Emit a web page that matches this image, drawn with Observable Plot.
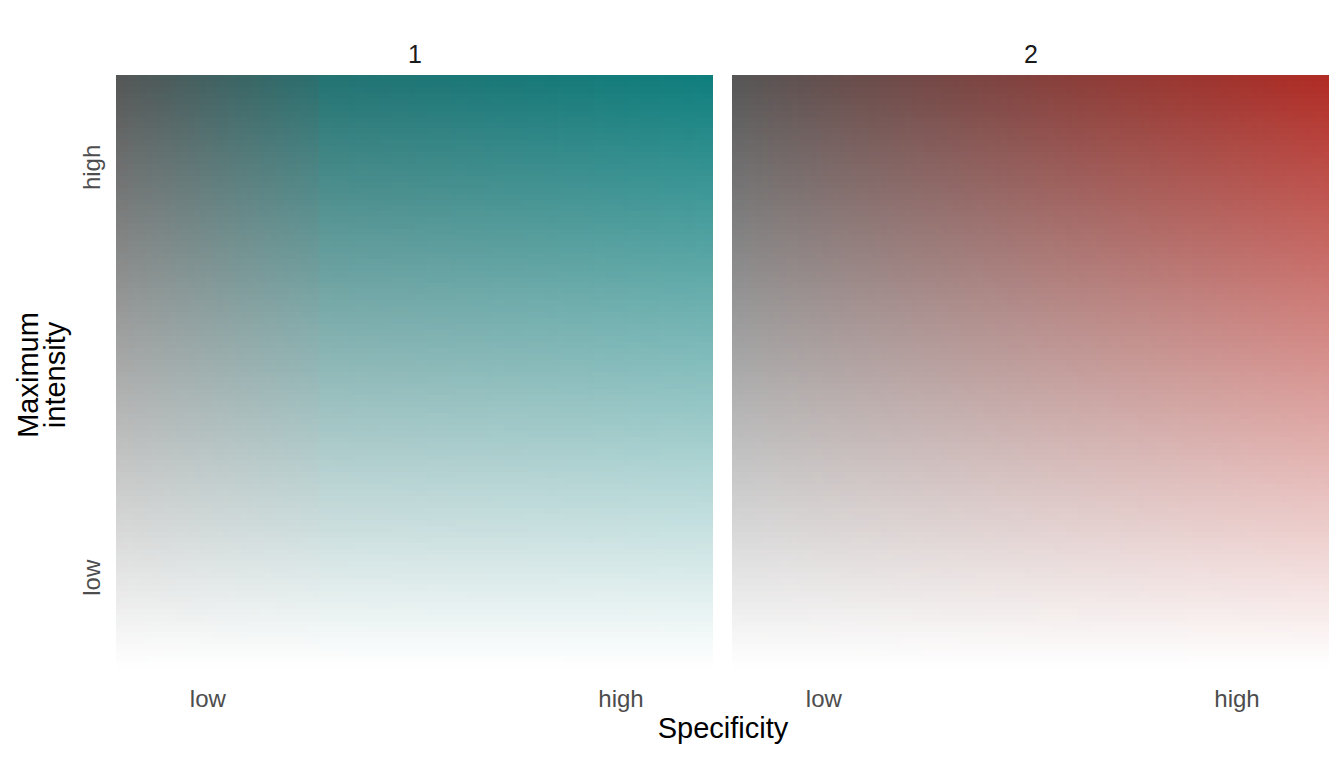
<!DOCTYPE html>
<html>
<head>
<meta charset="utf-8">
<script src="https://cdn.jsdelivr.net/npm/d3@7"></script>
<script src="https://cdn.jsdelivr.net/npm/@observablehq/plot@0.6"></script>
<style>
  html, body { margin: 0; padding: 0; background: #ffffff; }
  #chart svg { display: block; }
</style>
</head>
<body>
<div id="chart"></div>
<script>
// ---- chart content ----
const facets = ["1", "2"];
const hueColors = ["#0e7e7d", "#b02b24"];     // colour at high specificity & high intensity
const baseGray = "#555555";                   // colour at low specificity & high intensity
const lowColor = "#ffffff";                   // colour at low intensity
// how far each panel's colour moves from gray toward its hue, along specificity
const weightKnotS = [[0, 0.34, 0.345, 1], [0, 1]];
const weightKnotW = [[0, 0.62, 0.72, 1], [0, 1]];
const gridSteps = 100;                         // tiles per side
const tickValues = [0.153, 0.845];
const tickLabels = ["low", "high"];
const xTitle = "Specificity";
const yTitle = "Maximum\nintensity";

// ---- build tile table ----
const tiles = [];
facets.forEach((f, k) => {
  const wScale = d3.scaleLinear().domain(weightKnotS[k]).range(weightKnotW[k]).clamp(true);
  const hueMix = d3.interpolateRgb(baseGray, hueColors[k]);
  for (let i = 0; i < gridSteps; i++) {
    const s = (i + 0.5) / gridSteps;
    const top = hueMix(wScale(s));
    const vMix = d3.interpolateRgb(lowColor, top);
    for (let j = 0; j < gridSteps; j++) {
      const t = (j + 0.5) / gridSteps;
      tiles.push({
        facet: f,
        x1: i / gridSteps, x2: (i + 1) / gridSteps,
        y1: j / gridSteps, y2: (j + 1) / gridSteps,
        color: vMix(t)
      });
    }
  }
});

const xTicks = facets.flatMap(f => tickValues.map((v, i) => ({facet: f, value: v, label: tickLabels[i]})));
const yTicks = tickValues.map((v, i) => ({facet: facets[0], value: v, label: tickLabels[i]}));

const chart = Plot.plot({
  width: 1344,
  height: 768,
  marginLeft: 116,
  marginRight: 15,
  marginTop: 75,
  marginBottom: 100,
  style: {fontFamily: "'Liberation Sans', Arial, Helvetica, sans-serif", background: "#ffffff"},
  x: {domain: [0, 1], axis: null},
  y: {domain: [0, 1], axis: null},
  fx: {domain: facets, paddingInner: 19 / 616, paddingOuter: 0, axis: null},
  color: {type: "identity"},
  marks: [
    Plot.rect(tiles, {x1: "x1", x2: "x2", y1: "y1", y2: "y2", fx: "facet", fill: "color", shapeRendering: "crispEdges"}),
    Plot.text(facets, {fx: d => d, text: d => d, frameAnchor: "top", lineAnchor: "bottom", dy: -13, fontSize: 25, fill: "#1a1a1a"}),
    Plot.text(xTicks, {fx: "facet", x: "value", text: "label", frameAnchor: "bottom", lineAnchor: "bottom", dy: 38, fontSize: 24, fill: "#4d4d4d"}),
    Plot.text(yTicks, {fx: "facet", y: "value", text: "label", frameAnchor: "left", textAnchor: "middle", lineAnchor: "middle", rotate: -90, dx: -24, fontSize: 24, fill: "#4d4d4d"}),
    Plot.text([xTitle], {facet: "super", text: d => d, frameAnchor: "bottom", lineAnchor: "bottom", dy: 69, fontSize: 29, fill: "#000000"}),
    Plot.text([yTitle], {facet: "super", text: d => d, frameAnchor: "left", textAnchor: "middle", lineAnchor: "middle", rotate: -90, dx: -74, dy: 3, lineHeight: 0.93, fontSize: 29, fill: "#000000"})
  ]
});
document.getElementById("chart").appendChild(chart);
</script>
</body>
</html>
